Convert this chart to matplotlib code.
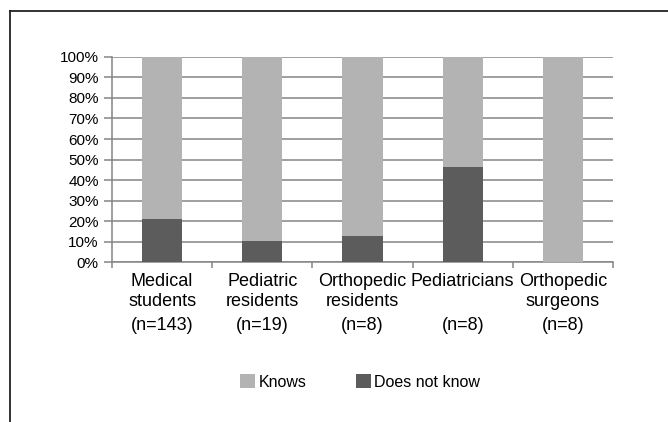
import matplotlib
matplotlib.use('Agg')
import matplotlib.pyplot as plt
from matplotlib.lines import Line2D
from matplotlib.ticker import FixedLocator, PercentFormatter

# データ
groups = ['Medical\nstudents', 'Pediatric\nresidents', 'Orthopedic\nresidents',
          'Pediatricians', 'Orthopedic\nsurgeons']
n_labels = ['(n=143)', '(n=19)', '(n=8)', '(n=8)', '(n=8)']
does_not_know = [21.0, 10.5, 12.5, 46.5, 0.0]
knows = [100 - v for v in does_not_know]

plt.rcParams['font.family'] = ['Liberation Sans', 'DejaVu Sans']

fig = plt.figure(figsize=(6.68, 4.22), dpi=100)
ax = fig.add_axes([0.1677, 0.379, 0.75, 0.486])

x = list(range(len(groups)))
ax.set_axisbelow(True)
ax.grid(axis='y', color='#858585', linewidth=1.1)
b2 = ax.bar(x, does_not_know, width=0.4, color='#5c5c5c', label='Does not know', zorder=3)
b1 = ax.bar(x, knows, width=0.4, bottom=does_not_know, color='#b3b3b3', label='Knows', zorder=3)

ax.set_xlim(-0.5, len(groups) - 0.5)
ax.set_ylim(0, 100)
ax.set_yticks(range(0, 101, 10))
ax.yaxis.set_major_formatter(PercentFormatter(decimals=0))
ax.tick_params(axis='y', length=6, width=1.1, color='#858585', labelsize=11, pad=3.5)

ax.set_xticks(x)
ax.set_xticklabels(groups, fontsize=13, linespacing=1.25)
ax.tick_params(axis='x', which='major', length=0, pad=8)
ax.xaxis.set_minor_locator(FixedLocator([i - 0.5 for i in range(len(groups) + 1)]))
ax.tick_params(axis='x', which='minor', length=4, width=1.1, color='#858585')

for s in ['top', 'right']:
    ax.spines[s].set_visible(False)
for s in ['left', 'bottom']:
    ax.spines[s].set_color('#858585')
    ax.spines[s].set_linewidth(1.1)

# (n=...) の行
for i, t in enumerate(n_labels):
    ax.text(i, -30.7, t, ha='center', va='center', fontsize=13, clip_on=False)

ax.legend(handles=[b1, b2], loc='center', bbox_to_anchor=(360 / 668, 1 - 382 / 422),
          bbox_transform=fig.transFigure, ncol=2, frameon=False, fontsize=11.5,
          handlelength=0.95, handleheight=1.0, handletextpad=0.2, columnspacing=3.1)

# 外枠（上と左のみ）
fig.add_artist(Line2D([10 / 668, 1], [1 - 11 / 422, 1 - 11 / 422], color='#222222', linewidth=1.3))
fig.add_artist(Line2D([10 / 668, 10 / 668], [0, 1 - 11 / 422], color='#222222', linewidth=1.3))

fig.savefig('out.png', dpi=100)
